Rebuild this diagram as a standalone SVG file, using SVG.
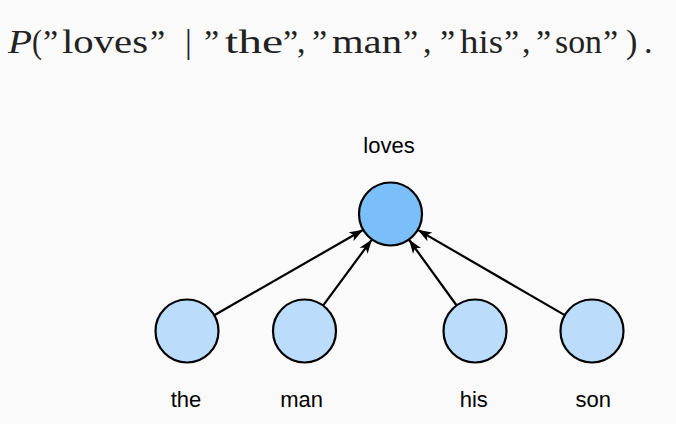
<svg xmlns="http://www.w3.org/2000/svg" width="676" height="424" viewBox="0 0 676 424">
  <defs>
    <marker id="arrow" viewBox="0 0 14 11" refX="13.5" refY="5.5" markerWidth="14" markerHeight="11" markerUnits="userSpaceOnUse" orient="auto">
      <path d="M0,0.5 L14,5.5 L0,10.5 L3.5,5.5 z" fill="#000"/>
    </marker>
  </defs>
  <style>
    .formula { font-family: "Liberation Serif", "Times New Roman", serif; font-size: 34px; fill: #222; }
    .label { font-family: "Liberation Sans", Arial, sans-serif; font-size: 22px; fill: #000; text-anchor: middle; }
    .top { fill: #7abff9; stroke: #000; stroke-width: 2.2; }
    .leaf { fill: #bbdcfb; stroke: #000; stroke-width: 2.2; }
    .edge { stroke: #000; stroke-width: 2.2; fill: none; marker-end: url(#arrow); }
  </style>
  <rect width="676" height="424" fill="#fafafa"/>
  <g id="formula" class="formula">
    <text x="8" y="52.5" font-style="italic" textLength="24" lengthAdjust="spacingAndGlyphs">P</text>
    <text x="32" y="52.5" textLength="10" lengthAdjust="spacingAndGlyphs">(</text>
    <text x="43" y="52.5">”</text>
    <text x="62" y="52.5" textLength="86" lengthAdjust="spacingAndGlyphs">loves</text>
    <text x="150" y="52.5">”</text>
    <text x="185" y="52.5">|</text>
    <text x="204" y="52.5">”</text>
    <text x="225" y="52.5" textLength="58" lengthAdjust="spacingAndGlyphs">the</text>
    <text x="283" y="52.5">”</text>
    <text x="297" y="52.5">,</text>
    <text x="312" y="52.5">”</text>
    <text x="332" y="52.5" textLength="70" lengthAdjust="spacingAndGlyphs">man</text>
    <text x="403" y="52.5">”</text>
    <text x="423" y="52.5">,</text>
    <text x="440" y="52.5">”</text>
    <text x="460" y="52.5" textLength="43" lengthAdjust="spacingAndGlyphs">his</text>
    <text x="504" y="52.5">”</text>
    <text x="522" y="52.5">,</text>
    <text x="536" y="52.5">”</text>
    <text x="555" y="52.5" textLength="47" lengthAdjust="spacingAndGlyphs">son</text>
    <text x="603" y="52.5">”</text>
    <text x="626" y="52.5">)</text>
    <text x="644" y="52.5">.</text>
  </g>
  <g id="connectors">
    <line class="edge" x1="214.7" y1="315" x2="362.8" y2="230"/>
    <line class="edge" x1="323.4" y1="305.2" x2="371.6" y2="239.8"/>
    <line class="edge" x1="456.3" y1="305" x2="409.2" y2="240"/>
    <line class="edge" x1="564.3" y1="314.9" x2="418.2" y2="230.1"/>
  </g>
  <g id="node-loves">
    <circle class="top" cx="390.5" cy="214" r="31.5"/>
    <text class="label" x="389" y="153">loves</text>
  </g>
  <g id="node-the">
    <circle class="leaf" cx="187" cy="331" r="31.5"/>
    <text class="label" x="186" y="407">the</text>
  </g>
  <g id="node-man">
    <circle class="leaf" cx="304.5" cy="331" r="31.5"/>
    <text class="label" x="301.7" y="407">man</text>
  </g>
  <g id="node-his">
    <circle class="leaf" cx="475" cy="331" r="31.5"/>
    <text class="label" x="473.8" y="407">his</text>
  </g>
  <g id="node-son">
    <circle class="leaf" cx="592" cy="331" r="31.5"/>
    <text class="label" x="593.3" y="407">son</text>
  </g>
</svg>
